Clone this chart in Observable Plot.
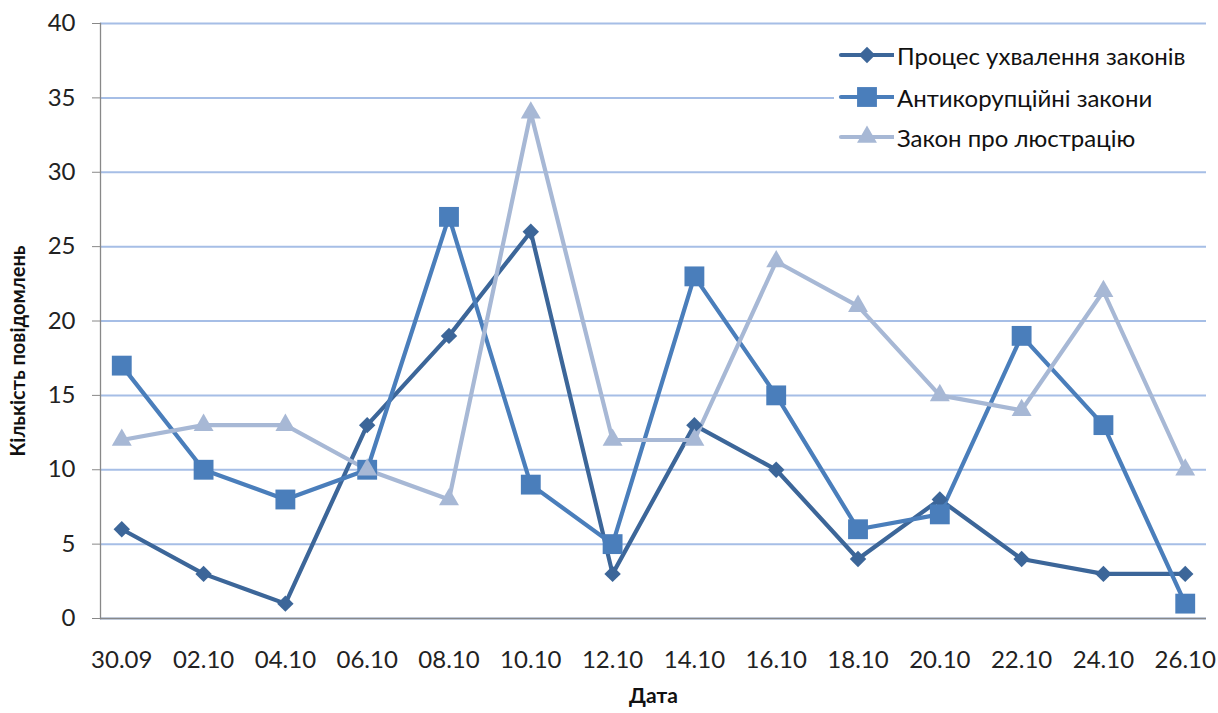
<!DOCTYPE html>
<html>
<head>
<meta charset="utf-8">
<script src="https://cdn.jsdelivr.net/npm/d3@7"></script>
<script src="https://cdn.jsdelivr.net/npm/@observablehq/plot@0.6"></script>
<style>
  html, body { margin: 0; padding: 0; background: #fff; }
  #wrap { position: relative; width: 1218px; height: 713px; font-family: Lato, "Liberation Sans", sans-serif; }
  #legend { position: absolute; left: 834px; top: 34px; width: 372px; height: 124px; background: #fff; }
  .lg-row { position: absolute; left: 0; height: 30px; display: flex; align-items: center; font-size: 24px; color: #111; white-space: nowrap; }
  .lg-row svg { margin-right: 3px; }
</style>
</head>
<body>
<div id="wrap"><div id="chart"></div><div id="legend"></div></div>
<script>
const dates = ["30.09","02.10","04.10","06.10","08.10","10.10","12.10","14.10","16.10","18.10","20.10","22.10","24.10","26.10"];
const seriesNames = ["Процес ухвалення законів", "Антикорупційні закони", "Закон про люстрацію"];
const processValues = [6,3,1,13,19,26,3,13,10,4,8,4,3,3];
const anticorruptionValues = [17,10,8,10,27,9,5,23,15,6,7,19,13,1];
const lustrationValues = [12,13,13,10,8,34,12,12,24,21,15,14,22,10];
const yTicks = [0,5,10,15,20,25,30,35,40];
const colors = ["#3C6699", "#4A7EBB", "#A7B8D5"];
const symbols = ["diamond2", "square", "triangle"];
const radii = [7.4, 11.2, 7.4];
const yTitle = "Кількість повідомлень";
const xTitle = "Дата";

const valueArrays = [processValues, anticorruptionValues, lustrationValues];
const rows = [];
valueArrays.forEach((vals, s) => vals.forEach((v, i) => rows.push({date: dates[i], value: v, series: seriesNames[s], s})));

const marks = [
  Plot.gridY(yTicks, {stroke: "#A6BEE6", strokeOpacity: 1, strokeWidth: 2}),
  Plot.ruleY([0], {stroke: "#888", strokeWidth: 1.3}),
  Plot.frame({anchor: "left", stroke: "#888", strokeWidth: 1.3}),
  Plot.axisY(yTicks, {tickSize: 8, tickPadding: 17, fontSize: 24, stroke: "#888", fill: "#222", label: null}),
  Plot.axisX({tickSize: 0, tickPadding: 32, fontSize: 24, fill: "#222", label: null}),
  Plot.text([yTitle], {frameAnchor: "left", dx: -82, dy: 30, rotate: -90, fontSize: 20, fontWeight: "bold", fill: "#111", textAnchor: "middle"}),
  Plot.text([xTitle], {frameAnchor: "bottom", dy: 84, fontSize: 21, fontWeight: "bold", fill: "#111", textAnchor: "middle"})
];
seriesNames.forEach((name, s) => {
  const d = rows.filter(r => r.s === s);
  marks.push(Plot.line(d, {x: "date", y: "value", stroke: colors[s], strokeWidth: 4.2, strokeLinejoin: "round", strokeLinecap: "round"}));
});
seriesNames.forEach((name, s) => {
  const d = rows.filter(r => r.s === s);
  marks.push(Plot.dot(d, {x: "date", y: "value", fill: colors[s], stroke: "none", symbol: symbols[s], r: radii[s]}));
});

const chart = Plot.plot({
  width: 1218,
  height: 713,
  marginLeft: 100,
  marginRight: 12,
  marginTop: 23,
  marginBottom: 95,
  style: {fontFamily: "Lato, 'Liberation Sans', sans-serif", background: "#fff"},
  x: {type: "point", domain: dates, padding: 0.26, round: false},
  y: {domain: [0, 40]},
  marks
});
document.getElementById("chart").appendChild(chart);

// legend
const legend = document.getElementById("legend");
const rowTops = [6, 48, 88];
seriesNames.forEach((name, s) => {
  const row = document.createElement("div");
  row.className = "lg-row";
  row.style.top = rowTops[s] + "px";
  const sw = d3.create("svg").attr("width", 60).attr("height", 30);
  sw.append("line").attr("x1", 7).attr("x2", 60).attr("y1", 15).attr("y2", 15)
    .attr("stroke", colors[s]).attr("stroke-width", 4.2).attr("stroke-linecap", "round");
  const symMap = {diamond2: d3.symbolDiamond2, square: d3.symbolSquare, triangle: d3.symbolTriangle};
  const size = Math.PI * radii[s] * radii[s];
  sw.append("path").attr("d", d3.symbol(symMap[symbols[s]], size)()).attr("transform", "translate(33,15)").attr("fill", colors[s]);
  row.appendChild(sw.node());
  const t = document.createElement("span");
  t.textContent = name;
  row.appendChild(t);
  legend.appendChild(row);
});
</script>
</body>
</html>
